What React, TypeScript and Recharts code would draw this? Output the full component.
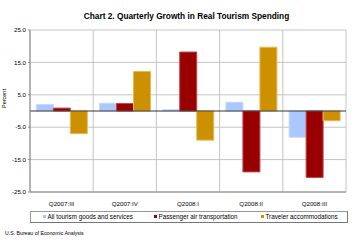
import React from 'react';
import { BarChart, Bar, XAxis, YAxis, CartesianGrid, ReferenceLine } from 'recharts';

const categories = ['Q2007:III', 'Q2007:IV', 'Q2008:I', 'Q2008:II', 'Q2008:III'];
const allTourism = [2.0, 2.4, 0.4, 2.7, -8.1];
const airTransport = [0.9, 2.3, 18.2, -18.8, -20.5];
const accommodations = [-7.0, 12.2, -9.0, 19.7, -3.0];
const yTicks = [-25, -15, -5, 5, 15, 25];

const seriesNames = ['All tourism goods and services', 'Passenger air transportation', 'Traveler accommodations'];
const seriesColors = ['#AAC7FF', '#990000', '#CC9000'];
const seriesStrokes = ['#C6D9FF', '#B84A4A', '#E2BC5C'];

const data = categories.map((c, i) => ({
  name: c,
  all: allTourism[i],
  air: airTransport[i],
  acc: accommodations[i],
}));

const font = 'Arial, "Liberation Sans", sans-serif';

export default function App() {
  const keys = ['all', 'air', 'acc'];
  return (
    <div style={{ position: 'absolute', left: 0, top: 0, width: 355, height: 242, background: '#fff', fontFamily: font }}>
      <div style={{ position: 'absolute', left: 0, top: 11, width: 373, textAlign: 'center', fontSize: 8.3, fontWeight: 'bold', color: '#000', lineHeight: '11px' }}>
        Chart 2. Quarterly Growth in Real Tourism Spending
      </div>
      <BarChart
        width={355}
        height={242}
        data={data}
        margin={{ top: 30, right: 9, bottom: 30, left: 0 }}
        barCategoryGap="10%"
        barGap={0}
      >
        <CartesianGrid
          stroke="#c4c4c4"
          strokeWidth={1}
          verticalCoordinatesGenerator={(props: any) => {
            const o = props.offset;
            return [0, 1, 2, 3, 4, 5].map((i) => o.left + (i * o.width) / 5);
          }}
        />
        <XAxis
          dataKey="name"
          height={20}
          tickLine={false}
          axisLine={{ stroke: '#888' }}
          tick={{ fontSize: 6.2, fill: '#000', fontFamily: font }}
          tickMargin={4}
          interval={0}
        />
        <YAxis
          width={30}
          domain={[-25, 25]}
          ticks={yTicks}
          tickFormatter={(v: number) => v.toFixed(1)}
          tick={{ fontSize: 6.2, fill: '#000', fontFamily: font }}
          tickSize={2}
          tickMargin={2}
          axisLine={{ stroke: '#888' }}
          tickLine={{ stroke: '#888' }}
          label={{ value: 'Percent', angle: -90, position: 'insideLeft', offset: 4, dy: -3, style: { fontSize: 5.5, fill: '#000', fontFamily: font } }}
        />
        <ReferenceLine y={0} stroke="#333" strokeWidth={1} />
        {keys.map((k, i) => (
          <Bar
            key={k}
            dataKey={k}
            name={seriesNames[i]}
            fill={seriesColors[i]}
            stroke={seriesStrokes[i]}
            strokeWidth={1}
            isAnimationActive={false}
          />
        ))}
      </BarChart>
      <div
        style={{
          position: 'absolute',
          left: 30,
          top: 211,
          width: 316,
          height: 10,
          border: '1px solid #999',
          borderRightColor: '#777',
          borderBottomColor: '#777',
          fontSize: 6.3,
          lineHeight: '10px',
          color: '#000',
        }}
      >
        {seriesNames.map((n, i) => (
          <span key={n} style={{ position: 'absolute', left: [12, 123, 230][i], top: 0, whiteSpace: 'nowrap' }}>
            <span style={{ display: 'inline-block', width: 3, height: 3, background: seriesColors[i], marginRight: 1.5, verticalAlign: 'middle', position: 'relative', top: -1 }} />
            {n}
          </span>
        ))}
      </div>
      <div style={{ position: 'absolute', left: 5, top: 230, fontSize: 5.2, color: '#000', whiteSpace: 'nowrap' }}>
        U.S. Bureau of Economic Analysis
      </div>
    </div>
  );
}
